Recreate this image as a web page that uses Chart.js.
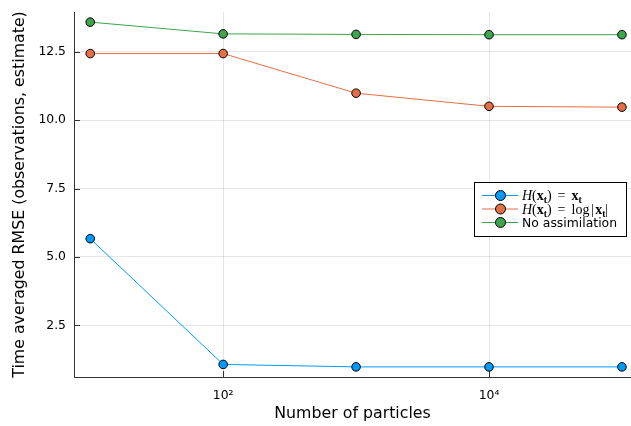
<!DOCTYPE html>
<html>
<head>
<meta charset="utf-8">
<script src="https://cdn.jsdelivr.net/npm/chart.js@4/dist/chart.umd.min.js"></script>
<style>
  body { margin: 0; background: #fff; }
</style>
</head>
<body>
<canvas id="chart" width="631" height="426"></canvas>
<script>
// data
const particles = [10, 100, 1000, 10000, 100000];
const rmseIdentity = [5.67, 1.07, 0.98, 0.98, 0.98];
const rmseLogAbs = [12.44, 12.44, 10.99, 10.51, 10.48];
const rmseNoAssim = [13.59, 13.16, 13.14, 13.13, 13.13];
const seriesNames = ['H(x_t) = x_t', 'H(x_t) = log| x_t|', 'No assimilation'];
const seriesColors = ['#009AFA', '#E36F47', '#3EA44E'];
const xTickValues = [100, 10000];
const yTickValues = [2.5, 5, 7.5, 10, 12.5];

const SANS = '"DejaVu Sans", sans-serif';
const SERIF = '"Liberation Serif", "DejaVu Serif", serif';
const supDigits = {'0':'⁰','1':'¹','2':'²','3':'³','4':'⁴','5':'⁵','6':'⁶','7':'⁷','8':'⁸','9':'⁹'};

function toPoints(ys) {
  return particles.map((x, i) => ({x: x, y: ys[i]}));
}

function makeDataset(i, ys) {
  return {
    label: seriesNames[i],
    data: toPoints(ys),
    borderColor: seriesColors[i],
    backgroundColor: seriesColors[i],
    borderWidth: 1,
    pointRadius: 4.3,
    pointBackgroundColor: seriesColors[i],
    pointBorderColor: '#000',
    pointBorderWidth: 1,
    tension: 0
  };
}

// draws a legend label; labels with '=' get latex-ish styling
function drawLabel(ctx, text, x, y) {
  ctx.textBaseline = 'alphabetic';
  ctx.textAlign = 'left';
  ctx.fillStyle = '#000';
  if (text.indexOf('=') < 0) {
    ctx.font = '12.4px ' + SANS;
    ctx.fillText(text, x, y + 4.5);
    return;
  }
  const tokens = text.match(/log|_[a-z]|[A-Za-z]|=|[^A-Za-z_=]/g);
  let cx = x;
  for (const tok of tokens) {
    let dy = 4.5;
    if (tok === ' ') { cx += 1.5; continue; }
    if (tok === 'log') ctx.font = '14px ' + SERIF;
    else if (tok[0] === '_') ctx.font = 'bold 9.5px ' + SERIF;
    else if (/[A-Z]/.test(tok)) ctx.font = 'italic 14px ' + SERIF;
    else if (/[a-z]/.test(tok)) ctx.font = 'bold 14px ' + SERIF;
    else ctx.font = '14px ' + SERIF;
    let s = tok;
    if (tok[0] === '_') { s = tok.slice(1); dy = 7.5; }
    if (tok === '=') cx += 4.5;
    ctx.fillText(s, cx, y + dy);
    cx += ctx.measureText(s).width;
    if (tok === '=') cx += 4.5;
    if (tok === 'log') cx += 1.5;
  }
}

const innerTicks = {
  id: 'innerTicks',
  beforeDatasetsDraw(chart) {
    const {ctx, chartArea: a, scales} = chart;
    ctx.save();
    ctx.strokeStyle = '#333';
    ctx.lineWidth = 1;
    ctx.beginPath();
    scales.x.ticks.forEach(t => {
      const px = Math.round(scales.x.getPixelForValue(t.value)) + 0.5;
      ctx.moveTo(px, a.bottom);
      ctx.lineTo(px, a.bottom - 6);
    });
    scales.y.ticks.forEach(t => {
      const py = Math.round(scales.y.getPixelForValue(t.value)) + 0.5;
      ctx.moveTo(a.left, py);
      ctx.lineTo(a.left + 6, py);
    });
    ctx.stroke();
    ctx.restore();
  }
};

const boxLegend = {
  id: 'boxLegend',
  afterDraw(chart) {
    const {ctx} = chart;
    const bx = 474.5, by = 182.5, bw = 152, bh = 54;
    ctx.save();
    ctx.fillStyle = '#fff';
    ctx.fillRect(bx, by, bw, bh);
    ctx.strokeStyle = '#000';
    ctx.lineWidth = 1;
    ctx.strokeRect(bx, by, bw, bh);
    chart.data.datasets.forEach((ds, i) => {
      const yy = 195.5 + i * 13.5;
      ctx.strokeStyle = ds.borderColor;
      ctx.beginPath();
      ctx.moveTo(482, yy);
      ctx.lineTo(518, yy);
      ctx.stroke();
      ctx.beginPath();
      ctx.arc(500.5, yy, 5, 0, Math.PI * 2);
      ctx.fillStyle = ds.pointBackgroundColor;
      ctx.fill();
      ctx.strokeStyle = '#000';
      ctx.stroke();
      drawLabel(ctx, ds.label, 522, yy);
    });
    ctx.restore();
  }
};

new Chart(document.getElementById('chart'), {
  type: 'line',
  data: {
    datasets: [
      makeDataset(0, rmseIdentity),
      makeDataset(1, rmseLogAbs),
      makeDataset(2, rmseNoAssim)
    ]
  },
  options: {
    responsive: false,
    animation: false,
    layout: { autoPadding: false, padding: { top: 12, right: 0, left: 0, bottom: 0 } },
    plugins: {
      legend: { display: false },
      tooltip: { enabled: false }
    },
    scales: {
      x: {
        type: 'logarithmic',
        min: 7.55,
        max: 117000,
        afterBuildTicks: (s) => { s.ticks = xTickValues.map(v => ({value: v})); },
        afterFit: (s) => { s.height = 49; s.paddingLeft = 0; s.paddingRight = 0; },
        grid: { color: 'rgba(0,0,0,0.1)', drawTicks: false, tickLength: 0 },
        border: { color: '#333', width: 1 },
        ticks: {
          padding: 11,
          color: '#000',
          font: { family: SANS, size: 12.4 },
          maxRotation: 0,
          callback: (v) => '10' + String(Math.round(Math.log10(v))).split('').map(d => supDigits[d]).join('')
        },
        title: {
          display: true,
          text: 'Number of particles',
          color: '#000',
          font: { family: SANS, size: 15.8 },
          padding: { top: 3, bottom: 3 }
        }
      },
      y: {
        type: 'linear',
        min: 0.61,
        max: 13.96,
        afterBuildTicks: (s) => { s.ticks = yTickValues.map(v => ({value: v})); },
        afterFit: (s) => { s.width = 74; s.paddingTop = 0; s.paddingBottom = 0; },
        grid: { color: 'rgba(0,0,0,0.1)', drawTicks: false, tickLength: 0 },
        border: { color: '#333', width: 1 },
        ticks: {
          padding: 8,
          color: '#000',
          font: { family: SANS, size: 12.4 },
          callback: (v) => Number(v).toFixed(1)
        },
        title: {
          display: true,
          text: 'Time averaged RMSE (observations, estimate)',
          color: '#000',
          font: { family: SANS, size: 15.8 },
          padding: { top: 10.5, bottom: 4 }
        }
      }
    }
  },
  plugins: [innerTicks, boxLegend]
});
</script>
</body>
</html>
